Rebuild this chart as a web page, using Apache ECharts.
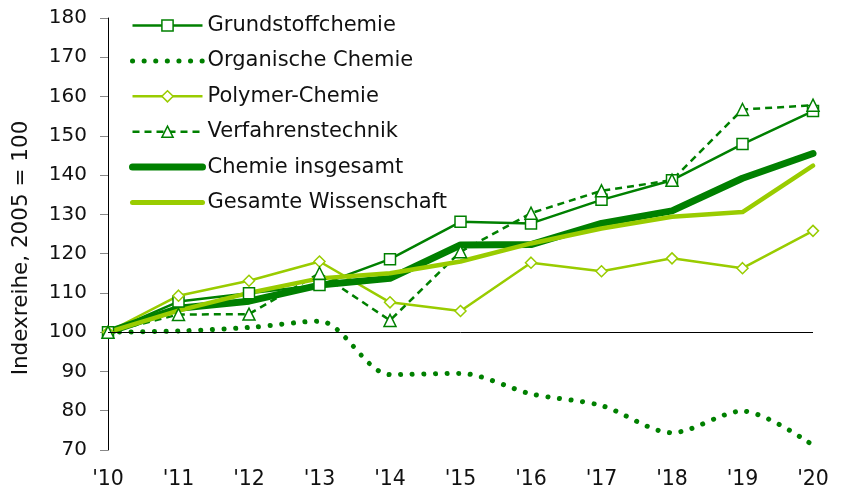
<!DOCTYPE html>
<html>
<head>
<meta charset="utf-8">
<script src="https://cdn.jsdelivr.net/npm/echarts@6/dist/echarts.min.js"></script>
<style>
  html, body { margin: 0; padding: 0; background: #fff; }
  #main { width: 842px; height: 492px; }
</style>
</head>
<body>
<div id="main"></div>
<script>
// Jahre und Indexwerte (2005 = 100)
var jahre = ["'10", "'11", "'12", "'13", "'14", "'15", "'16", "'17", "'18", "'19", "'20"];
var grundstoffchemie = [100, 107.8, 109.9, 112, 118.6, 128.1, 127.7, 133.7, 138.7, 147.9, 156.3];
var organischeChemie = [100, 100.3, 101.2, 102.8, 89.2, 89.5, 84.3, 81.3, 74.4, 79.9, 71.2];
var polymerChemie = [100, 109.3, 113.1, 118, 107.6, 105.4, 117.7, 115.5, 118.8, 116.3, 125.8];
var verfahrenstechnik = [100, 104.5, 104.6, 115, 103, 120.5, 130.3, 136, 138.7, 156.7, 157.8];
var chemieInsgesamt = [100, 106.1, 107.9, 112, 113.7, 122.2, 122.3, 127.7, 130.9, 139.2, 145.5];
var gesamteWissenschaft = [100, 105.5, 110, 113.7, 115, 118, 122.6, 126.4, 129.4, 130.6, 142.4];

var dunkelgruen = '#008000';
var hellgruen = '#99cc00';
var schrift = 'DejaVu Sans, Verdana, sans-serif';
var unsichtbar = { color: 'rgba(0,0,0,0)', borderColor: 'rgba(0,0,0,0)', borderWidth: 0 };

var myChart = echarts.init(document.getElementById('main'));

var option = {
    animation: false,
    backgroundColor: '#fff',
    grid: { left: 108, right: 29, top: 18, bottom: 42 },
    legend: {
        orient: 'vertical',
        left: 124,
        top: 10,
        itemWidth: 70,
        itemHeight: 14,
        itemGap: 14.4,
        textStyle: { fontFamily: schrift, fontSize: 21, color: '#111' },
        data: [
            { name: 'Grundstoffchemie', itemStyle: { color: '#fff', borderColor: dunkelgruen, borderWidth: 1.5 }, lineStyle: { width: 2.5 } },
            { name: 'Organische Chemie', itemStyle: unsichtbar, lineStyle: { width: 5 } },
            { name: 'Polymer-Chemie', itemStyle: { color: '#fff', borderColor: hellgruen, borderWidth: 1.5 }, lineStyle: { width: 2.5 } },
            { name: 'Verfahrenstechnik', itemStyle: { color: '#fff', borderColor: dunkelgruen, borderWidth: 1.5 }, lineStyle: { width: 2.5 } },
            { name: 'Chemie insgesamt', itemStyle: unsichtbar, lineStyle: { width: 7 } },
            { name: 'Gesamte Wissenschaft', itemStyle: unsichtbar, lineStyle: { width: 5 } }
        ]
    },
    xAxis: {
        type: 'category',
        boundaryGap: false,
        data: jahre,
        axisLine: { show: false },
        axisTick: { show: false },
        axisLabel: { fontFamily: schrift, fontSize: 20.5, color: '#111', margin: 19 }
    },
    yAxis: {
        type: 'value',
        min: 70,
        max: 180,
        interval: 10,
        name: 'Indexreihe, 2005 = 100',
        nameLocation: 'middle',
        nameGap: 76,
        nameTextStyle: { fontFamily: schrift, fontSize: 21.5, color: '#111', padding: [0, 28, 0, 0] },
        axisLine: { show: true, lineStyle: { color: '#000', width: 1 } },
        axisTick: { show: true, length: 8, lineStyle: { color: '#888' } },
        splitLine: { show: false },
        axisLabel: { fontFamily: schrift, fontSize: 20, color: '#111', margin: 21 }
    },
    series: [
        {
            name: 'Grundstoffchemie',
            type: 'line',
            data: grundstoffchemie,
            color: dunkelgruen,
            symbol: 'rect',
            symbolSize: 11,
            showAllSymbol: true,
            lineStyle: { width: 2.5, color: dunkelgruen },
            itemStyle: { color: '#fff', borderColor: dunkelgruen, borderWidth: 1.5 },
            markLine: {
                silent: true,
                symbol: 'none',
                label: { show: false },
                lineStyle: { color: '#000', width: 1, type: 'solid' },
                data: [{ yAxis: 100 }]
            }
        },
        {
            name: 'Organische Chemie',
            type: 'line',
            data: organischeChemie,
            color: dunkelgruen,
            symbol: 'none',
            smooth: 0.3,
            lineStyle: { width: 5, color: dunkelgruen, type: [0.1, 11.5], cap: 'round' }
        },
        {
            name: 'Polymer-Chemie',
            type: 'line',
            data: polymerChemie,
            color: hellgruen,
            symbol: 'diamond',
            symbolSize: 11,
            showAllSymbol: true,
            lineStyle: { width: 2.5, color: hellgruen },
            itemStyle: { color: '#fff', borderColor: hellgruen, borderWidth: 1.5 }
        },
        {
            name: 'Verfahrenstechnik',
            type: 'line',
            data: verfahrenstechnik,
            color: dunkelgruen,
            symbol: 'triangle',
            symbolSize: 12,
            showAllSymbol: true,
            lineStyle: { width: 2.5, color: dunkelgruen, type: [7, 5] },
            itemStyle: { color: '#fff', borderColor: dunkelgruen, borderWidth: 1.5 }
        },
        {
            name: 'Chemie insgesamt',
            type: 'line',
            data: chemieInsgesamt,
            color: dunkelgruen,
            symbol: 'none',
            lineStyle: { width: 7, color: dunkelgruen, cap: 'round', join: 'round' }
        },
        {
            name: 'Gesamte Wissenschaft',
            type: 'line',
            data: gesamteWissenschaft,
            color: hellgruen,
            symbol: 'none',
            lineStyle: { width: 4.5, color: hellgruen, cap: 'round', join: 'round' }
        }
    ]
};

myChart.setOption(option);
</script>
</body>
</html>
